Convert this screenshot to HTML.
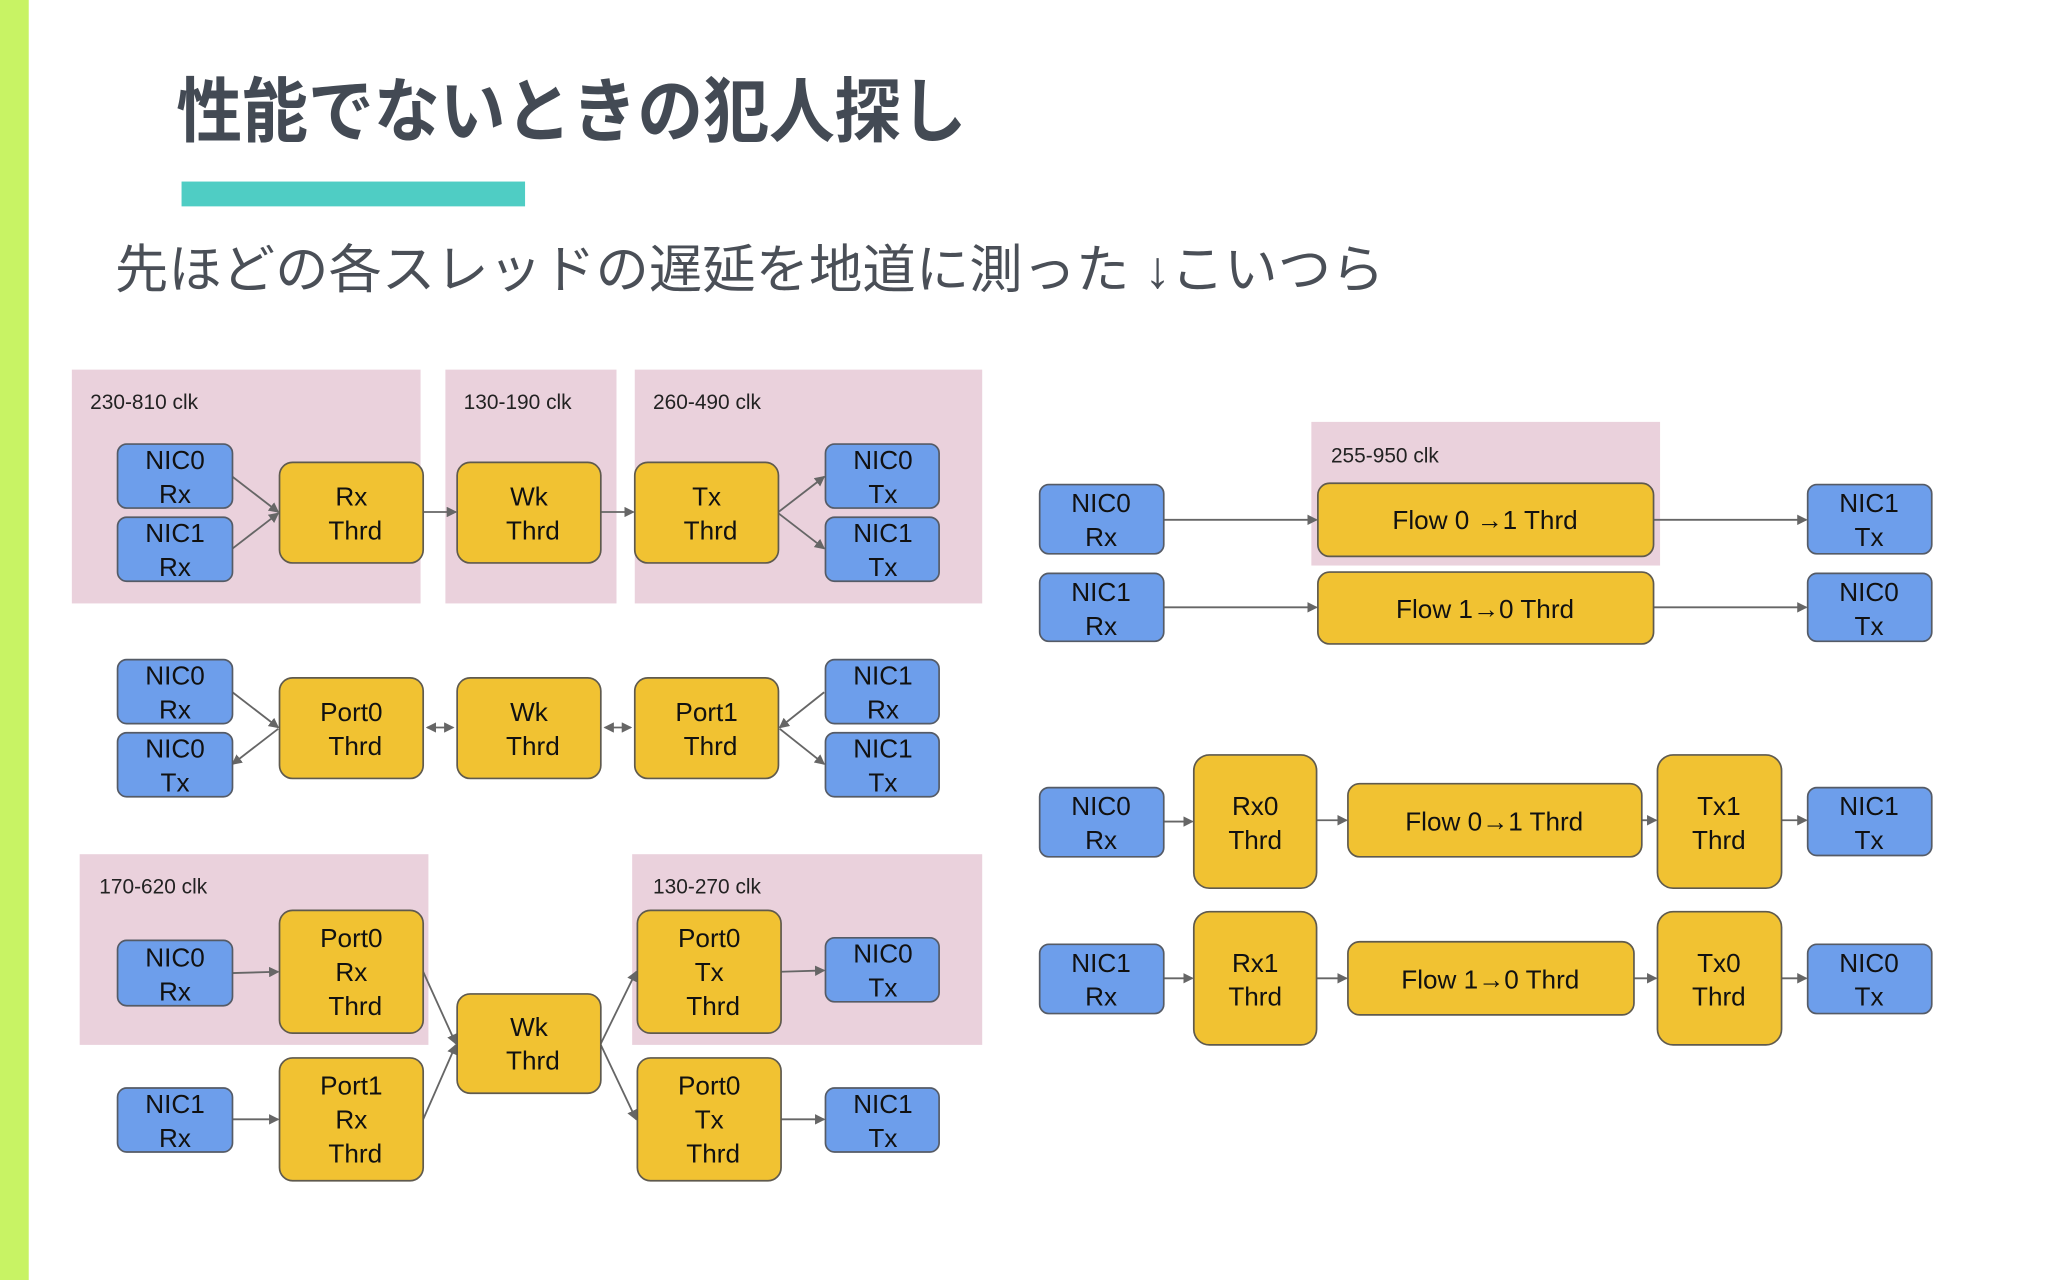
<!DOCTYPE html>
<html><head><meta charset="utf-8"><style>
html,body{margin:0;padding:0;background:#fff}
svg{display:block}
text{font-family:"Liberation Sans","Noto Sans CJK JP",sans-serif}
.b{fill:#6d9eeb;stroke:#555b66;stroke-width:1.3}
.y{fill:#f1c232;stroke:#5f5a4e;stroke-width:1.3}
.p{fill:#ead1dc}
.t{font-size:20px;fill:#111;text-anchor:middle}
.l{font-size:16px;fill:#222}
.a{stroke:#666;stroke-width:1.4;fill:none;marker-end:url(#ah)}
.d{stroke:#666;stroke-width:1.4;fill:none;marker-end:url(#ah);marker-start:url(#ah2)}
</style></head><body>
<svg width="2048" height="1280" viewBox="0 0 1568 980" preserveAspectRatio="none" xmlns="http://www.w3.org/2000/svg">
<defs>
<marker id="ah" markerWidth="8" markerHeight="8" refX="7" refY="4" orient="auto" markerUnits="userSpaceOnUse"><path d="M0,0 L8,4 L0,8 z" fill="#666"/></marker>
<marker id="ah2" markerWidth="8" markerHeight="8" refX="1" refY="4" orient="auto" markerUnits="userSpaceOnUse"><path d="M8,0 L0,4 L8,8 z" fill="#666"/></marker>
</defs>
<rect x="0" y="0" width="22" height="980" fill="#c8f364"/>
<text x="135" y="104" font-size="54" font-weight="bold" fill="#434a54" textLength="605" lengthAdjust="spacingAndGlyphs">性能でないときの犯人探し</text>
<rect x="139" y="139" width="263" height="19" fill="#4fcdc4"/>
<text x="88" y="220" font-size="40" fill="#4a4f57" textLength="972" lengthAdjust="spacingAndGlyphs">先ほどの各スレッドの遅延を地道に測った ↓こいつら</text>

<!-- panels -->
<rect class="p" x="55" y="283" width="267" height="179"/>
<rect class="p" x="341" y="283" width="131" height="179"/>
<rect class="p" x="486" y="283" width="266" height="179"/>
<rect class="p" x="61" y="654" width="267" height="146"/>
<rect class="p" x="484" y="654" width="268" height="146"/>
<rect class="p" x="1004" y="323" width="267" height="110"/>
<text class="l" x="69" y="313">230-810 clk</text>
<text class="l" x="355" y="313">130-190 clk</text>
<text class="l" x="500" y="313">260-490 clk</text>
<text class="l" x="76" y="684">170-620 clk</text>
<text class="l" x="500" y="684">130-270 clk</text>
<text class="l" x="1019" y="354">255-950 clk</text>

<!-- arrows row1 -->
<line class="a" x1="178" y1="365" x2="213" y2="392"/>
<line class="a" x1="178" y1="420" x2="213" y2="393"/>
<line class="a" x1="324" y1="392" x2="349" y2="392"/>
<line class="a" x1="460" y1="392" x2="485" y2="392"/>
<line class="a" x1="596" y1="392" x2="631" y2="365"/>
<line class="a" x1="596" y1="393" x2="631" y2="420"/>
<!-- row2 -->
<line class="a" x1="178" y1="530" x2="213" y2="557"/>
<line class="a" x1="213" y1="558" x2="178" y2="585"/>
<line class="d" x1="327" y1="557" x2="347" y2="557"/>
<line class="d" x1="463" y1="557" x2="483" y2="557"/>
<line class="a" x1="631" y1="530" x2="597" y2="557"/>
<line class="a" x1="597" y1="558" x2="631" y2="585"/>
<!-- row3 -->
<line class="a" x1="178" y1="745" x2="213" y2="744"/>
<line class="a" x1="178" y1="857" x2="213" y2="857"/>
<line class="a" x1="324" y1="744" x2="349" y2="799"/>
<line class="a" x1="324" y1="857" x2="349" y2="800"/>
<line class="a" x1="460" y1="799" x2="487" y2="744"/>
<line class="a" x1="460" y1="800" x2="487" y2="857"/>
<line class="a" x1="598" y1="744" x2="631" y2="743"/>
<line class="a" x1="598" y1="857" x2="631" y2="857"/>
<!-- right -->
<line class="a" x1="891" y1="398" x2="1008" y2="398"/>
<line class="a" x1="1266" y1="398" x2="1383" y2="398"/>
<line class="a" x1="891" y1="465" x2="1008" y2="465"/>
<line class="a" x1="1266" y1="465" x2="1383" y2="465"/>
<line class="a" x1="891" y1="629" x2="913" y2="629"/>
<line class="a" x1="1008" y1="628" x2="1031" y2="628"/>
<line class="a" x1="1257" y1="628" x2="1268" y2="628"/>
<line class="a" x1="1364" y1="628" x2="1383" y2="628"/>
<line class="a" x1="891" y1="749" x2="913" y2="749"/>
<line class="a" x1="1008" y1="749" x2="1031" y2="749"/>
<line class="a" x1="1251" y1="749" x2="1268" y2="749"/>
<line class="a" x1="1364" y1="749" x2="1383" y2="749"/>

<!-- boxes helper: blue -->
<g>
<rect class="b" x="90" y="340" width="88" height="49" rx="7"/><text class="t" x="134" y="359">NIC0</text><text class="t" x="134" y="385">Rx</text>
<rect class="b" x="90" y="396" width="88" height="49" rx="7"/><text class="t" x="134" y="415">NIC1</text><text class="t" x="134" y="441">Rx</text>
<rect class="y" x="214" y="354" width="110" height="77" rx="10"/><text class="t" x="269" y="387">Rx</text><text class="t" x="272" y="413">Thrd</text>
<rect class="y" x="350" y="354" width="110" height="77" rx="10"/><text class="t" x="405" y="387">Wk</text><text class="t" x="408" y="413">Thrd</text>
<rect class="y" x="486" y="354" width="110" height="77" rx="10"/><text class="t" x="541" y="387">Tx</text><text class="t" x="544" y="413">Thrd</text>
<rect class="b" x="632" y="340" width="87" height="49" rx="7"/><text class="t" x="676" y="359">NIC0</text><text class="t" x="676" y="385">Tx</text>
<rect class="b" x="632" y="396" width="87" height="49" rx="7"/><text class="t" x="676" y="415">NIC1</text><text class="t" x="676" y="441">Tx</text>

<rect class="b" x="90" y="505" width="88" height="49" rx="7"/><text class="t" x="134" y="524">NIC0</text><text class="t" x="134" y="550">Rx</text>
<rect class="b" x="90" y="561" width="88" height="49" rx="7"/><text class="t" x="134" y="580">NIC0</text><text class="t" x="134" y="606">Tx</text>
<rect class="y" x="214" y="519" width="110" height="77" rx="10"/><text class="t" x="269" y="552">Port0</text><text class="t" x="272" y="578">Thrd</text>
<rect class="y" x="350" y="519" width="110" height="77" rx="10"/><text class="t" x="405" y="552">Wk</text><text class="t" x="408" y="578">Thrd</text>
<rect class="y" x="486" y="519" width="110" height="77" rx="10"/><text class="t" x="541" y="552">Port1</text><text class="t" x="544" y="578">Thrd</text>
<rect class="b" x="632" y="505" width="87" height="49" rx="7"/><text class="t" x="676" y="524">NIC1</text><text class="t" x="676" y="550">Rx</text>
<rect class="b" x="632" y="561" width="87" height="49" rx="7"/><text class="t" x="676" y="580">NIC1</text><text class="t" x="676" y="606">Tx</text>

<rect class="b" x="90" y="720" width="88" height="50" rx="7"/><text class="t" x="134" y="740">NIC0</text><text class="t" x="134" y="766">Rx</text>
<rect class="b" x="90" y="833" width="88" height="49" rx="7"/><text class="t" x="134" y="852">NIC1</text><text class="t" x="134" y="878">Rx</text>
<rect class="y" x="214" y="697" width="110" height="94" rx="10"/><text class="t" x="269" y="725">Port0</text><text class="t" x="269" y="751">Rx</text><text class="t" x="272" y="777">Thrd</text>
<rect class="y" x="214" y="810" width="110" height="94" rx="10"/><text class="t" x="269" y="838">Port1</text><text class="t" x="269" y="864">Rx</text><text class="t" x="272" y="890">Thrd</text>
<rect class="y" x="350" y="761" width="110" height="76" rx="10"/><text class="t" x="405" y="793">Wk</text><text class="t" x="408" y="819">Thrd</text>
<rect class="y" x="488" y="697" width="110" height="94" rx="10"/><text class="t" x="543" y="725">Port0</text><text class="t" x="543" y="751">Tx</text><text class="t" x="546" y="777">Thrd</text>
<rect class="y" x="488" y="810" width="110" height="94" rx="10"/><text class="t" x="543" y="838">Port0</text><text class="t" x="543" y="864">Tx</text><text class="t" x="546" y="890">Thrd</text>
<rect class="b" x="632" y="718" width="87" height="49" rx="7"/><text class="t" x="676" y="737">NIC0</text><text class="t" x="676" y="763">Tx</text>
<rect class="b" x="632" y="833" width="87" height="49" rx="7"/><text class="t" x="676" y="852">NIC1</text><text class="t" x="676" y="878">Tx</text>

<rect class="b" x="796" y="371" width="95" height="53" rx="7"/><text class="t" x="843" y="392">NIC0</text><text class="t" x="843" y="418">Rx</text>
<rect class="y" x="1009" y="370" width="257" height="56" rx="9"/><text class="t" x="1137" y="405">Flow 0 →1 Thrd</text>
<rect class="b" x="1384" y="371" width="95" height="53" rx="7"/><text class="t" x="1431" y="392">NIC1</text><text class="t" x="1431" y="418">Tx</text>
<rect class="b" x="796" y="439" width="95" height="52" rx="7"/><text class="t" x="843" y="460">NIC1</text><text class="t" x="843" y="486">Rx</text>
<rect class="y" x="1009" y="438" width="257" height="55" rx="9"/><text class="t" x="1137" y="473">Flow 1→0 Thrd</text>
<rect class="b" x="1384" y="439" width="95" height="52" rx="7"/><text class="t" x="1431" y="460">NIC0</text><text class="t" x="1431" y="486">Tx</text>

<rect class="b" x="796" y="603" width="95" height="53" rx="7"/><text class="t" x="843" y="624">NIC0</text><text class="t" x="843" y="650">Rx</text>
<rect class="y" x="914" y="578" width="94" height="102" rx="12"/><text class="t" x="961" y="624">Rx0</text><text class="t" x="961" y="650">Thrd</text>
<rect class="y" x="1032" y="600" width="225" height="56" rx="9"/><text class="t" x="1144" y="636">Flow 0→1 Thrd</text>
<rect class="y" x="1269" y="578" width="95" height="102" rx="12"/><text class="t" x="1316" y="624">Tx1</text><text class="t" x="1316" y="650">Thrd</text>
<rect class="b" x="1384" y="603" width="95" height="52" rx="7"/><text class="t" x="1431" y="624">NIC1</text><text class="t" x="1431" y="650">Tx</text>

<rect class="b" x="796" y="723" width="95" height="53" rx="7"/><text class="t" x="843" y="744">NIC1</text><text class="t" x="843" y="770">Rx</text>
<rect class="y" x="914" y="698" width="94" height="102" rx="12"/><text class="t" x="961" y="744">Rx1</text><text class="t" x="961" y="770">Thrd</text>
<rect class="y" x="1032" y="721" width="219" height="56" rx="9"/><text class="t" x="1141" y="757">Flow 1→0 Thrd</text>
<rect class="y" x="1269" y="698" width="95" height="102" rx="12"/><text class="t" x="1316" y="744">Tx0</text><text class="t" x="1316" y="770">Thrd</text>
<rect class="b" x="1384" y="723" width="95" height="53" rx="7"/><text class="t" x="1431" y="744">NIC0</text><text class="t" x="1431" y="770">Tx</text>
</g>
</svg>
</body></html>
